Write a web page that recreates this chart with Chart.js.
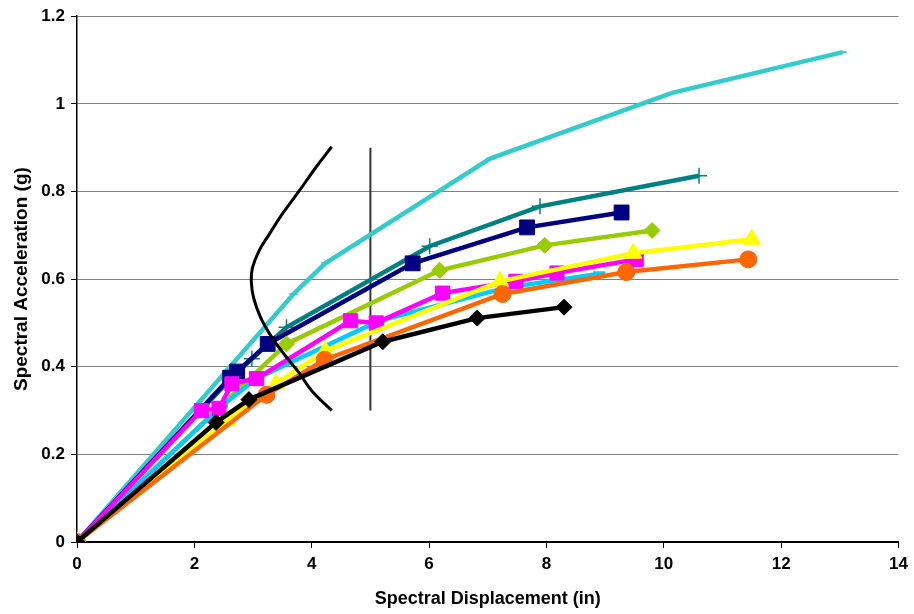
<!DOCTYPE html>
<html lang="en">
<head>
  <meta charset="UTF-8" />
  <title>Spectral Acceleration vs Displacement</title>
  <script src="https://cdn.jsdelivr.net/npm/chart.js"></script>
  <style>
    body { margin: 0; background: #fff; }
    #wrap { width: 914px; height: 614px; position: relative; }
  </style>
</head>
<body>
  <div id="wrap"><canvas id="chart"></canvas></div>

  <script>
    // pushover / capacity curves (x = displacement in, y = acceleration g)
    const turqX = [0, 3.69, 4.23, 7.04, 10.14, 13.05];
    const turqY = [0, 0.566, 0.636, 0.875, 1.025, 1.118];

    const tealX = [0, 2.60, 2.98, 3.57, 6.01, 7.89, 10.60];
    const tealY = [0, 0.370, 0.418, 0.490, 0.675, 0.766, 0.836];

    const navyX = [0, 2.61, 2.73, 3.25, 5.72, 7.67, 9.28];
    const navyY = [0, 0.375, 0.389, 0.452, 0.636, 0.718, 0.752];

    const greenX = [0, 3.57, 6.18, 7.97, 9.80];
    const greenY = [0, 0.452, 0.620, 0.677, 0.711];

    const skyX = [0, 2.47, 3.06, 5.15, 7.30, 8.90];
    const skyY = [0, 0.311, 0.373, 0.505, 0.580, 0.612];

    const pinkX = [0, 2.12, 2.42, 2.64, 3.06, 4.66, 5.10, 6.23, 7.48, 8.18, 9.53];
    const pinkY = [0, 0.300, 0.305, 0.361, 0.373, 0.505, 0.500, 0.568, 0.595, 0.614, 0.645];

    const yellowX = [0, 2.56, 3.39, 4.23, 7.21, 9.48, 11.50];
    const yellowY = [0, 0.277, 0.361, 0.436, 0.595, 0.659, 0.691];

    const orangeX = [0, 3.23, 4.22, 7.25, 9.36, 11.44];
    const orangeY = [0, 0.336, 0.416, 0.566, 0.616, 0.645];

    const blackX = [0, 2.37, 2.93, 5.21, 6.82, 8.30];
    const blackY = [0, 0.273, 0.325, 0.457, 0.511, 0.536];

    // demand curve and limit line
    const demandX = [4.34, 4.06, 3.78, 3.49, 3.27, 3.10, 2.99, 2.97, 3.01, 3.13, 3.32, 3.55, 3.78, 4.00, 4.34];
    const demandY = [0.902, 0.853, 0.800, 0.747, 0.701, 0.664, 0.626, 0.595, 0.557, 0.512, 0.467, 0.425, 0.387, 0.345, 0.300];

    const limitX = [5, 5];
    const limitY = [0.30, 0.90];

    const xTicks = [0, 2, 4, 6, 8, 10, 12, 14];
    const yTicks = [0, 0.2, 0.4, 0.6, 0.8, 1, 1.2];

    function pts(xs, ys) {
      return xs.map((x, i) => ({ x: x, y: ys[i] }));
    }

    function series(xs, ys, color, style, radius, extra) {
      return Object.assign({
        data: pts(xs, ys),
        showLine: true,
        borderColor: color,
        backgroundColor: color,
        borderWidth: 4.5,
        pointStyle: style,
        pointRadius: radius,
        pointBorderWidth: 1,
        pointBackgroundColor: color,
        pointBorderColor: color,
        tension: 0
      }, extra || {});
    }

    const fam = "'Liberation Sans', Arial, sans-serif";
    const tickFont = { family: fam, size: 17, weight: 'bold' };

    // first dataset is drawn on top
    const datasets = [
      {
        data: pts(demandX, demandY),
        showLine: true,
        borderColor: '#000',
        borderWidth: 3,
        pointRadius: 0,
        tension: 0.4
      },
      series(blackX, blackY, '#000000', 'rectRot', 8),
      series(orangeX, orangeY, '#FF6600', 'circle', 8.5),
      series(yellowX, yellowY, '#FFFF00', 'triangle', 10),
      series(pinkX, pinkY, '#FF00FF', 'rect', 10),
      series(skyX, skyY, '#00CCFF', 'line', 6, { pointBorderWidth: 5 }),
      series(greenX, greenY, '#99CC00', 'rectRot', 8),
      series(navyX, navyY, '#000080', 'rect', 10.5),
      series(tealX, tealY, '#008080', 'cross', 8, { pointBorderWidth: 1.5 }),
      series(turqX, turqY, '#33CCCC', 'line', 4, { pointBorderWidth: 2 }),
      {
        data: pts(limitX, limitY),
        showLine: true,
        borderColor: '#333',
        borderWidth: 2,
        pointRadius: 0
      }
    ];

    new Chart(document.getElementById('chart'), {
      type: 'scatter',
      data: { datasets: datasets },
      options: {
        responsive: true,
        maintainAspectRatio: false,
        animation: false,
        devicePixelRatio: 1,
        layout: { padding: { top: 10, right: 10, left: 10, bottom: 0 } },
        plugins: { legend: { display: false }, tooltip: { enabled: false } },
        scales: {
          x: {
            type: 'linear',
            min: 0,
            max: 14,
            afterBuildTicks: s => { s.ticks = xTicks.map(v => ({ value: v })); },
            afterFit: s => { s.height = 72; },
            grid: { drawOnChartArea: false, color: '#000', tickLength: 6, tickWidth: 1 },
            border: { color: '#000', width: 2 },
            ticks: { color: '#000', font: tickFont, padding: 6, maxRotation: 0, callback: v => String(v) },
            title: { display: true, text: 'Spectral Displacement (in)', color: '#000', font: { family: fam, size: 18, weight: 'bold' }, padding: { top: 6 } }
          },
          y: {
            type: 'linear',
            min: 0,
            max: 1.2,
            afterBuildTicks: s => { s.ticks = yTicks.map(v => ({ value: v })); },
            afterFit: s => { s.width = 67; },
            grid: { color: '#808080', lineWidth: 1, tickLength: 6, tickColor: '#000' },
            border: { color: '#000', width: 1.5 },
            ticks: { color: '#000', font: tickFont, padding: 6, callback: v => String(v) },
            title: { display: true, text: 'Spectral Acceleration (g)', color: '#000', font: { family: fam, size: 19, weight: 'bold' }, padding: { top: 0, bottom: 0 } }
          }
        }
      }
    });
  </script>
</body>
</html>
